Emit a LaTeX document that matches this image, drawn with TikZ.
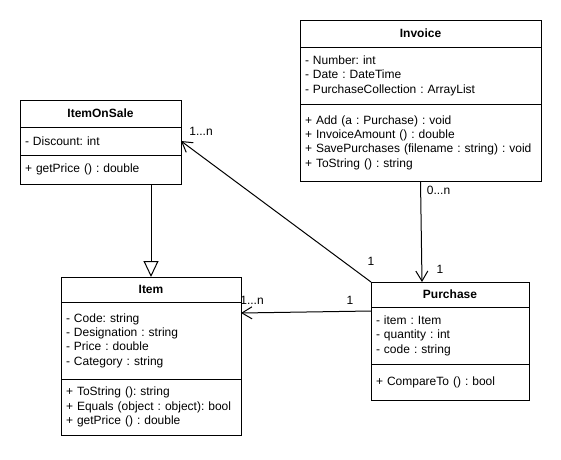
\documentclass[tikz,border=0pt]{standalone}
\usepackage{fontspec}
\setmainfont{Liberation Sans}
\usetikzlibrary{
arrows.meta,
positioning
}
\frenchspacing

\begin{document}
\begin{tikzpicture}[
    x=1pt, y=1pt,
    font=\fontsize{12}{14.4}\selectfont,
    classname/.style={draw, line width=1pt, outer sep=0pt, anchor=north west,
      font=\fontsize{12}{14.4}\selectfont\bfseries},
    classpart/.style={draw, line width=1pt, outer sep=0pt, align=left,
      inner xsep=5pt, inner ysep=2pt},
    assoc/.style={line width=1pt, -{Straight Barb[length=10pt,width=12pt]}},
    inherit/.style={line width=1pt, -{Triangle[open,length=16pt,width=15pt,fill=white]}},
    mult/.style={inner sep=0pt}]
  \useasboundingbox (0,0) rectangle (561,-459);
  % Invoice
  \node[classname, minimum width=241pt, minimum height=27pt] (inv) at (300,-20) {Invoice};
  \node[classpart, below=0pt of inv, text width=231pt, minimum height=57pt] (invA)
    {- Number: int\\- Date : DateTime\\- PurchaseCollection : ArrayList};
  \node[classpart, below=0pt of invA, text width=231pt, minimum height=77pt] (invM)
    {+ Add (a : Purchase) : void\\+ InvoiceAmount () : double\\
     + SavePurchases (filename : string) : void\\+ ToString () : string};
  % ItemOnSale
  \node[classname, minimum width=161pt, minimum height=27pt] (ios) at (20,-100) {ItemOnSale};
  \node[classpart, below=0pt of ios, text width=151pt, minimum height=28pt] (iosA)
    {- Discount: int};
  \node[classpart, below=0pt of iosA, text width=151pt, minimum height=29pt] (iosM)
    {+ getPrice () : double};
  % Item
  \node[classname, minimum width=180pt, minimum height=25pt] (item) at (61,-277) {Item};
  \node[classpart, below=0pt of item, text width=170pt, minimum height=77pt] (itemA)
    {- Code: string\\- Designation : string\\- Price : double\\- Category : string\\[5pt]};
  \node[classpart, below=0pt of itemA, text width=170pt, minimum height=56pt] (itemM)
    {+ ToString (): string\\+ Equals (object : object): bool\\+ getPrice () : double};
  % Purchase
  \node[classname, minimum width=158pt, minimum height=25pt] (purch) at (371,-282) {Purchase};
  \node[classpart, below=0pt of purch, text width=148pt, minimum height=57pt] (purchA)
    {- item : Item\\- quantity : int\\- code : string};
  \node[classpart, below=0pt of purchA, text width=148pt, minimum height=36pt] (purchM)
    {+ CompareTo () : bool};
  % relations
  \draw[inherit] (iosM.south -| item.north) -- (item.north);
  \draw[assoc] (invM.south) -- ([xshift=-28pt]purch.north)
      node[mult, at start, xshift=18pt, yshift=-9pt] {0...n}
      node[mult, at end, xshift=18pt, yshift=13pt] {1};
  \draw[assoc] (purch.north west) -- (iosA.east)
      node[mult, at start, yshift=21pt] {1}
      node[mult, at end, xshift=20pt, yshift=10pt] {1...n};
  \draw[assoc] ([yshift=-4pt]purchA.north west) -- ([yshift=-11pt]itemA.north east)
      node[mult, at start, xshift=-21pt, yshift=11pt] {1}
      node[mult, at end, xshift=11pt, yshift=13pt] {1...n};
\end{tikzpicture}
\end{document}
